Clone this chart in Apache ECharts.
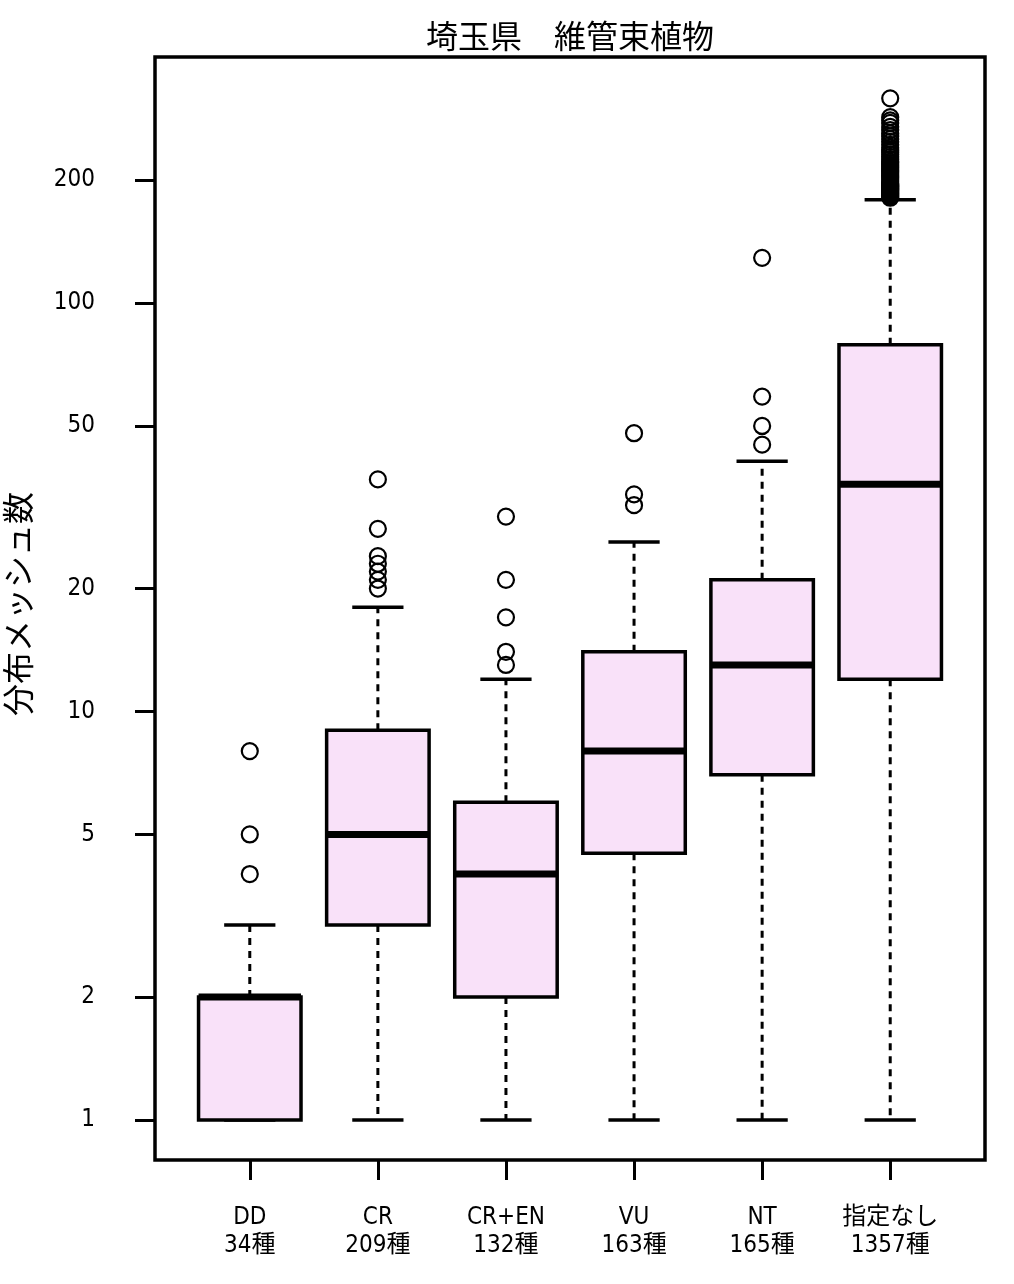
<!DOCTYPE html>
<html>
<head>
<meta charset="utf-8">
<script src="https://cdn.jsdelivr.net/npm/echarts@6/dist/echarts.min.js"></script>
<style>
html,body{margin:0;padding:0;background:#fff;}
#chart{width:1014px;height:1284px;}
</style>
</head>
<body>
<div id="chart"></div>
<script>
// ---- data ----
const categories = ['DD', 'CR', 'CR+EN', 'VU', 'NT', '指定なし'];
const speciesCounts = [34, 209, 132, 163, 165, 1357];
const whiskerLow = [1, 1, 1, 1, 1, 1];
const q1 = [1, 3, 2, 4.5, 7, 12];
const median = [2, 5, 4, 8, 13, 36];
const q3 = [2, 9, 6, 14, 21, 79];
const whiskerHigh = [3, 18, 12, 26, 41, 179];
const outliersDD = [4, 5, 8];
const outliersCR = [20, 21, 22, 23, 24, 28, 37];
const outliersCREN = [13, 14, 17, 21, 30];
const outliersVU = [32, 34, 48];
const outliersNT = [45, 50, 59, 129];
const outliersNone = [181, 182, 183, 184, 185, 186, 187, 188, 189, 190, 191, 192, 193, 194, 195, 196, 198, 200, 202, 204, 206, 208, 210, 212, 214, 216, 218, 220, 222, 225, 228, 231, 234, 237, 240, 244, 248, 252, 256, 260, 265, 270, 276, 280, 285, 317];
const yTickValues = [1, 2, 5, 10, 20, 50, 100, 200];
const titleText = '埼玉県　維管束植物';
const yAxisTitle = '分布メッシュ数';

// ---- build ----
const lg = Math.log10;
const outlierGroups = [outliersDD, outliersCR, outliersCREN, outliersVU, outliersNT, outliersNone];
const boxData = categories.map((c, i) => [i + 1, lg(whiskerLow[i]), lg(q1[i]), lg(median[i]), lg(q3[i]), lg(whiskerHigh[i])]);
const outlierData = [];
outlierGroups.forEach((g, i) => g.forEach(v => outlierData.push([i + 1, lg(v)])));

const labelFont = "'Liberation Sans Narrow', 'DejaVu Sans Condensed', 'Noto Sans CJK JP', sans-serif";
const cjkFont = "'Noto Sans CJK JP', sans-serif";

const chart = echarts.init(document.getElementById('chart'), null, {renderer: 'canvas'});
chart.setOption({
  animation: false,
  backgroundColor: '#ffffff',
  grid: {left: 155, right: 29, top: 57, bottom: 124, show: true, borderColor: '#000', borderWidth: 3.5, backgroundColor: 'transparent'},
  xAxis: {
    type: 'value', min: 0.26, max: 6.74,
    axisLine: {show: false, onZero: false},
    splitLine: {show: false},
    axisTick: {show: true, inside: false, length: 20, lineStyle: {color: '#000', width: 3}, customValues: [1, 2, 3, 4, 5, 6]},
    axisLabel: {
      show: true, margin: 44, customValues: [1, 2, 3, 4, 5, 6],
      formatter: v => categories[Math.round(v) - 1] + '\n' + speciesCounts[Math.round(v) - 1] + '種',
      fontFamily: labelFont, fontSize: 24, color: '#000', lineHeight: 28
    }
  },
  yAxis: {
    type: 'value', min: -40 / 408.5, max: 1063 / 408.5,
    axisLine: {show: false, onZero: false},
    splitLine: {show: false},
    axisTick: {show: true, inside: false, length: 20, lineStyle: {color: '#000', width: 3}, customValues: yTickValues.map(lg)},
    axisLabel: {
      show: true, margin: 60, customValues: yTickValues.map(lg),
      formatter: v => String(Math.round(Math.pow(10, v))),
      fontFamily: labelFont, fontSize: 24, color: '#000'
    }
  },
  graphic: [
    {type: 'text', x: 570, y: 36, style: {text: titleText, fontFamily: cjkFont, fontSize: 32, fill: '#000', align: 'center', verticalAlign: 'middle'}},
    {type: 'text', x: 18, y: 604, rotation: Math.PI / 2, style: {text: yAxisTitle, fontFamily: cjkFont, fontSize: 32, fill: '#000', align: 'center', verticalAlign: 'middle'}}
  ],
  series: [
    {
      type: 'custom',
      data: boxData,
      encode: {x: 0, y: [1, 2, 3, 4, 5]},
      z: 2,
      renderItem: function (params, api) {
        const x = api.value(0);
        const pLo = api.coord([x, api.value(1)]);
        const pQ1 = api.coord([x, api.value(2)]);
        const pMd = api.coord([x, api.value(3)]);
        const pQ3 = api.coord([x, api.value(4)]);
        const pHi = api.coord([x, api.value(5)]);
        const bw = api.size([0.8, 0])[0];
        const cw = api.size([0.4, 0])[0];
        const cx = pMd[0];
        const dash = {stroke: '#000', lineWidth: 3, lineDash: [7, 6]};
        const solid = {stroke: '#000', lineWidth: 3.5};
        return {
          type: 'group',
          children: [
            {type: 'line', shape: {x1: cx, y1: pQ3[1], x2: cx, y2: pHi[1]}, style: dash},
            {type: 'line', shape: {x1: cx, y1: pQ1[1], x2: cx, y2: pLo[1]}, style: dash},
            {type: 'line', shape: {x1: cx - cw / 2, y1: pHi[1], x2: cx + cw / 2, y2: pHi[1]}, style: solid},
            {type: 'line', shape: {x1: cx - cw / 2, y1: pLo[1], x2: cx + cw / 2, y2: pLo[1]}, style: solid},
            {type: 'rect', shape: {x: cx - bw / 2, y: pQ3[1], width: bw, height: pQ1[1] - pQ3[1]}, style: {fill: '#F9E1F9', stroke: '#000', lineWidth: 3.5}},
            {type: 'line', shape: {x1: cx - bw / 2, y1: pMd[1], x2: cx + bw / 2, y2: pMd[1]}, style: {stroke: '#000', lineWidth: 7}}
          ]
        };
      }
    },
    {
      type: 'scatter',
      data: outlierData,
      z: 3,
      symbol: 'circle',
      symbolSize: 16,
      itemStyle: {color: 'rgba(0,0,0,0)', borderColor: '#000', borderWidth: 2.2, opacity: 1},
      emphasis: {disabled: true}
    }
  ]
});
</script>
</body>
</html>
